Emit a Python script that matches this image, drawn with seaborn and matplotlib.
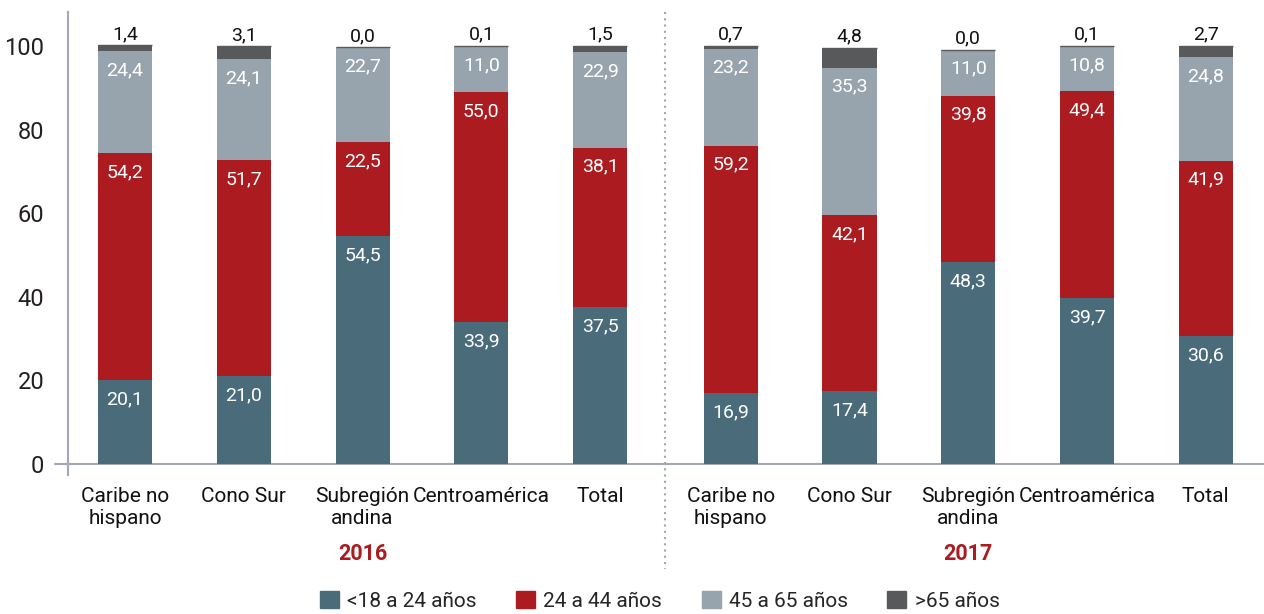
import matplotlib.pyplot as plt
import matplotlib.patches as mpatches
import numpy as np
import pandas as pd
import seaborn as sns

sns.set_style("white")
plt.rcParams['font.family'] = ['Roboto', 'DejaVu Sans']

# categories
regions = ["Caribe no\nhispano", "Cono Sur", "Subregión\nandina", "Centroamérica", "Total"]
years = ["2016", "2017"]
series = ["<18 a 24 años", "24 a 44 años", "45 a 65 años", ">65 años"]

# values (2016 then 2017)
menor_24 = [20.1, 21.0, 54.5, 33.9, 37.5, 16.9, 17.4, 48.3, 39.7, 30.6]
de_24_44 = [54.2, 51.7, 22.5, 55.0, 38.1, 59.2, 42.1, 39.8, 49.4, 41.9]
de_45_65 = [24.4, 24.1, 22.7, 11.0, 22.9, 23.2, 35.3, 11.0, 10.8, 24.8]
mayor_65 = [1.4, 3.1, 0.0, 0.1, 1.5, 0.7, 4.8, 0.0, 0.1, 2.7]

colors = ["#4a6b7a", "#ab1b20", "#98a4ad", "#58595b"]

pos = [0, 1, 2, 3, 4, 5.1, 6.1, 7.1, 8.1, 9.1]
layers = np.array([menor_24, de_24_44, de_45_65, mayor_65])
cum = layers.cumsum(axis=0)

fig = plt.figure(figsize=(12.64, 6.14), dpi=100)
ax = fig.add_axes([68 / 1264, 0.2264, 1 - 68 / 1264, 0.9805 - 0.2264])

# overlay cumulative bars, tallest first
for k in range(3, -1, -1):
    df = pd.DataFrame({"pos": pos, "val": cum[k]})
    sns.barplot(data=df, x="pos", y="val", native_scale=True, color=colors[k],
                width=0.455, saturation=1, errorbar=None, ax=ax, linewidth=0)

# thin top line for the >65 segment (visible even at 0,0)
ax.hlines(cum[3], np.array(pos) - 0.2275, np.array(pos) + 0.2275, color=colors[3], linewidth=1)

# labels
for i, x in enumerate(pos):
    for k in range(3):
        ax.text(x, cum[k][i] - 4.5, f"{layers[k][i]:.1f}".replace(".", ","),
                ha="center", va="center", color="white", fontsize=14)
    ax.text(x, cum[3][i] + 0.5, f"{layers[3][i]:.1f}".replace(".", ","),
            ha="center", va="bottom", color="#111111", fontsize=14)

ax.set_xlim(-0.48, 9.59)
ax.set_ylim(-2.6, 108.1)
ax.set_yticks([0, 20, 40, 60, 80, 100])
ax.set_yticklabels(["0", "20", "40", "60", "80", "100"], fontsize=17, color="#231f20")
ax.set_xticks(pos)
ax.set_xticklabels(regions * 2, fontsize=15, color="#111111", linespacing=1.15)
ax.tick_params(axis="both", length=0)
ax.tick_params(axis="y", pad=17)
ax.tick_params(axis="x", pad=9)
ax.set_xlabel("")
ax.set_ylabel("")

for s in ["top", "right", "bottom"]:
    ax.spines[s].set_visible(False)
ax.spines["left"].set_color("#a3a6b4")
ax.spines["left"].set_linewidth(1.5)
ax.axhline(0, xmin=-0.011, xmax=1, color="#a3a6b4", linewidth=1.5, clip_on=False, zorder=0)

# separator between years
ax.plot([4.55, 4.55], [108.1, -25], linestyle=(0, (1, 2)), color="#a3a6b4",
        linewidth=1.5, clip_on=False)

# year labels
for x, yr in zip([2, 7.1], years):
    ax.text(x, -21.5, yr, ha="center", va="center", color="#ab1b20",
            fontsize=15.5, fontweight="bold")

handles = [mpatches.Patch(color=c, label=l) for c, l in zip(colors, series)]
fig.legend(handles=handles, loc="lower center", bbox_to_anchor=(0.522, -0.025), ncol=4,
           frameon=False, fontsize=15, handlelength=0.9, handleheight=0.9,
           columnspacing=1.9, handletextpad=0.4)

fig.savefig("out.png", dpi=100)
